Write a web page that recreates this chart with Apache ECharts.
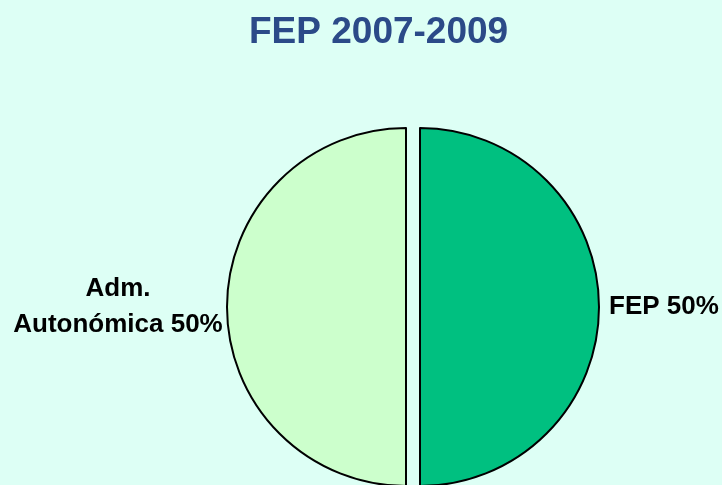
<!DOCTYPE html>
<html><head><meta charset="utf-8">
<script src="https://cdn.jsdelivr.net/npm/echarts@6/dist/echarts.min.js"></script>
<style>html,body{margin:0;padding:0;background:#DDFFF5;}#c{width:722px;height:485px;}</style>
</head><body><div id="c"></div>
<script>
const categories = ['FEP', 'Adm.\nAutonómica'];
const values = [50, 50];
const colors = ['#00C080', '#CCFFCC'];
const titleText = 'FEP 2007-2009';

const chart = echarts.init(document.getElementById('c'), null, {renderer: 'canvas'});
chart.setOption({
  backgroundColor: '#DDFFF5',
  animation: false,
  title: {
    text: titleText, left: 244, top: 9,
    textStyle: {fontFamily: 'Liberation Sans', fontWeight: 'bold', fontSize: 37, color: '#2B4A88'}
  },
  series: [{
    type: 'pie',
    center: [413, 307],
    radius: 179,
    startAngle: 90,
    clockwise: true,
    selectedMode: 'multiple',
    selectedOffset: 7,
    avoidLabelOverlap: false,
    emphasis: {disabled: true},
    itemStyle: {borderColor: '#000', borderWidth: 2},
    labelLine: {show: false, length: 2, length2: 3},
    label: {
      show: true, position: 'outside', distanceToLabelLine: 5,
      fontFamily: 'Liberation Sans', fontWeight: 'bold', fontSize: 26, color: '#000', lineHeight: 36,
      formatter: function (p) {
        if (p.dataIndex === 1) return '{a|Adm.}\n{a|Autonómica ' + p.value + '%}';
        return '{b|' + p.name + ' ' + p.value + '%}';
      },
      rich: {
        a: {fontFamily: 'Liberation Sans', fontWeight: 'bold', fontSize: 26, color: '#000', width: 210, align: 'center', lineHeight: 36},
        b: {fontFamily: 'Liberation Sans', fontWeight: 'bold', fontSize: 26, color: '#000'}
      }
    },
    data: categories.map((c, i) => ({
      name: c, value: values[i], selected: true,
      itemStyle: {color: colors[i]},
      labelLine: i === 1 ? {show: false, length: 0, length2: 0} : undefined,
      label: i === 1 ? {distanceToLabelLine: 4, offset: [0, 3]} : undefined,
      select: {itemStyle: {color: colors[i], borderColor: '#000', borderWidth: 2}}
    }))
  }]
});
</script></body></html>
